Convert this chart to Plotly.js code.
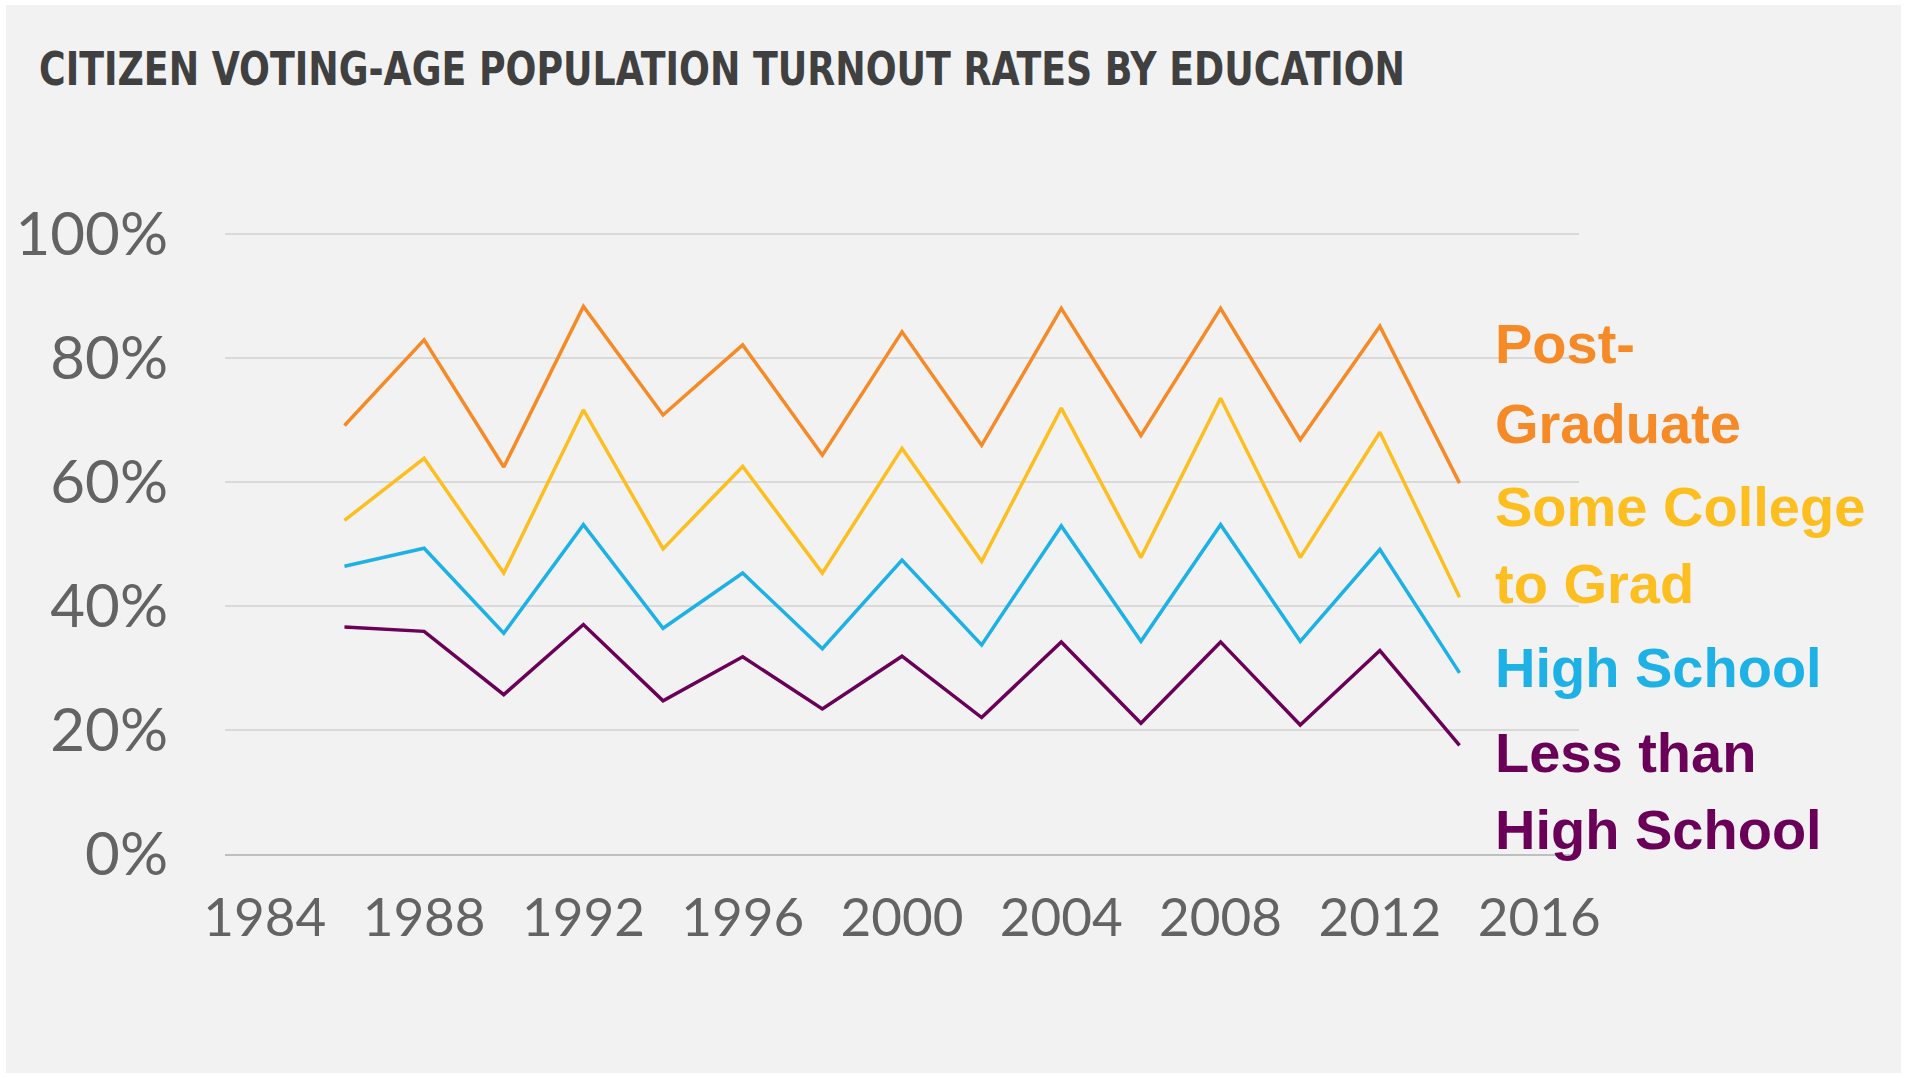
<!DOCTYPE html>
<html>
<head>
<meta charset="utf-8">
<script src="https://cdn.plot.ly/plotly-3.0.1.min.js"></script>
<style>
  html, body { margin: 0; padding: 0; background: #ffffff; }
  #chart { position: absolute; left: 6px; top: 5px; width: 1895px; height: 1068px; }
</style>
</head>
<body>
<div id="chart"></div>
<script>
// ---- data ----
const years = [1986, 1988, 1990, 1992, 1994, 1996, 1998, 2000, 2002, 2004, 2006, 2008, 2010, 2012, 2014];
const postGraduate = [69.1, 82.9, 62.4, 88.3, 70.8, 82.1, 64.3, 84.2, 65.9, 88.0, 67.5, 88.0, 66.8, 85.1, 59.8];
const someCollege  = [53.8, 63.8, 45.3, 71.6, 49.2, 62.5, 45.3, 65.4, 47.2, 71.9, 47.8, 73.5, 47.8, 68.0, 41.4];
const highSchool   = [46.4, 49.3, 35.6, 53.1, 36.4, 45.3, 33.1, 47.4, 33.7, 52.9, 34.3, 53.1, 34.3, 49.1, 29.2];
const lessThanHS   = [36.6, 35.9, 25.7, 37.0, 24.7, 31.8, 23.4, 31.9, 22.0, 34.2, 21.1, 34.2, 20.8, 32.8, 17.5];

const seriesNames = ["Post-Graduate", "Some College to Grad", "High School", "Less than High School"];
const labelLines = [["Post-", "Graduate"], ["Some College", "to Grad"], ["High School"], ["Less than", "High School"]];
const yTickVals = [0, 20, 40, 60, 80, 100];
const yTickText = ["0%", "20%", "40%", "60%", "80%", "100%"];
const xTickVals = [1984, 1988, 1992, 1996, 2000, 2004, 2008, 2012, 2016];
const xTickText = ["1984", "1988", "1992", "1996", "2000", "2004", "2008", "2012", "2016"];
const titleText = "CITIZEN VOTING-AGE POPULATION TURNOUT RATES BY EDUCATION";

// ---- styles ----
const colors = ["#F58A27", "#FDBE1F", "#1DB1E6", "#6B0058"];
const allSeries = [postGraduate, someCollege, highSchool, lessThanHS];
// label line vertical positions (in y data units)
const labelY = [[82.3, 69.5], [56.1, 43.7], [30.1], [16.4, 4.0]];

const traces = allSeries.map((vals, i) => ({
  type: "scatter",
  mode: "lines",
  x: years,
  y: vals,
  name: seriesNames[i],
  line: { color: colors[i], width: 3.5 },
  hoverinfo: "x+y+name"
}));

const annotations = [];
labelLines.forEach((lines, i) => {
  lines.forEach((txt, j) => {
    annotations.push({
      xref: "paper", yref: "y",
      x: 0.9365, y: labelY[i][j],
      xanchor: "left", yanchor: "middle",
      text: txt, showarrow: false,
      font: { family: "Liberation Sans, Arial, sans-serif", size: 56, color: colors[i], weight: "bold" }
    });
  });
});

const layout = {
  width: 1895, height: 1068,
  paper_bgcolor: "#F2F2F2",
  plot_bgcolor: "#F2F2F2",
  margin: { l: 219, r: 322, t: 227, b: 219, pad: 0 },
  showlegend: false,
  title: {
    text: titleText,
    xref: "container", yref: "container",
    x: 33 / 1895, xanchor: "left",
    y: 1 - 63.5 / 1068, yanchor: "middle",
    font: { family: "DejaVu Sans Condensed, Liberation Sans Narrow, sans-serif", size: 46, color: "#404040", weight: "bold" }
  },
  xaxis: {
    range: [1983, 2017],
    tickmode: "array",
    tickvals: xTickVals,
    ticktext: xTickText,
    ticks: "",
    showgrid: false,
    zeroline: false,
    showline: true,
    linecolor: "#BFBFBF",
    linewidth: 2,
    ticklabelstandoff: 16,
    tickfont: { family: "Lato, sans-serif", size: 53, color: "#636363" }
  },
  yaxis: {
    range: [0, 100.3],
    tickmode: "array",
    tickvals: yTickVals,
    ticktext: yTickText,
    ticks: "",
    showgrid: true,
    gridcolor: "#D9D9D9",
    gridwidth: 2,
    zeroline: false,
    showline: false,
    ticklabelstandoff: 56,
    tickfont: { family: "Lato, sans-serif", size: 60, color: "#636363" }
  },
  annotations: annotations
};

Plotly.newPlot("chart", traces, layout, { displayModeBar: false, responsive: false }).then(gd => {
  // condense the title to the reference's width (it is set in a condensed face)
  const t = gd.querySelector(".gtitle");
  if (t) {
    t.setAttribute("textLength", "1366");
    t.setAttribute("lengthAdjust", "spacingAndGlyphs");
  }
});
</script>
</body>
</html>
